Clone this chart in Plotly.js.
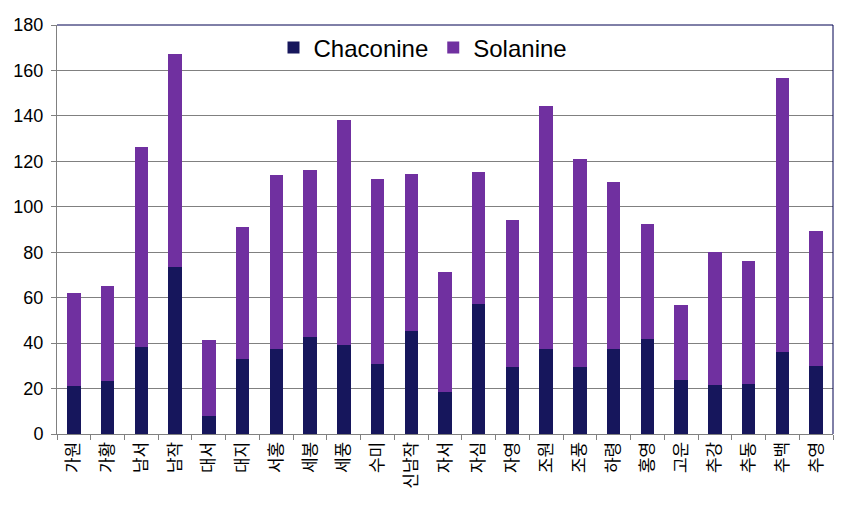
<!DOCTYPE html>
<html>
<head>
<meta charset="utf-8">
<script src="https://cdn.plot.ly/plotly-3.0.1.min.js"></script>
<style>html,body{margin:0;padding:0;background:#fff;}#chart{width:849px;height:511px;}</style>
</head>
<body>
<div id="chart"></div>
<script>
const categories = ["가원","가황","남서","남작","대서","대지","서홍","세봉","세풍","수미","신남작","자서","자심","자영","조원","조풍","하령","홍영","고운","추강","추동","추백","추영"];
const chaconine = [21.1,23.3,38.3,73.5,7.9,33.0,37.4,42.7,39.2,30.8,45.3,18.5,57.2,29.5,37.4,29.5,37.4,41.8,23.8,21.6,22.0,36.1,29.9];
const totals    = [62.0,65.1,126.3,167.2,41.4,91.1,114.0,116.2,138.2,112.2,114.4,71.3,115.3,94.2,144.4,121.0,110.9,92.4,56.8,80.1,76.1,156.7,89.3];
const solanine = totals.map((t,i)=>+(t - chaconine[i]).toFixed(1));
const yTicks = [0,20,40,60,80,100,120,140,160,180];

const data = [
  {type:'bar', name:'Chaconine', x:categories, y:chaconine, marker:{color:'#16165c'}},
  {type:'bar', name:'Solanine', x:categories, y:solanine, marker:{color:'#7030a0'}}
];

const layout = {
  width:849, height:511,
  margin:{l:57, r:16, t:25, b:77, pad:0},
  paper_bgcolor:'#ffffff', plot_bgcolor:'#ffffff',
  barmode:'stack', bargap:0.6,
  font:{family:'Liberation Sans, Arial, sans-serif', color:'#000'},
  xaxis:{
    type:'category', tickangle:-90, tickson:'boundaries',
    ticks:'outside', ticklen:5, tickcolor:'#808080', tickwidth:1,
    showline:true, linecolor:'#808080', linewidth:1,
    showgrid:false, tickfont:{family:'Noto Sans CJK KR', size:17, color:'#000'}
  },
  yaxis:{
    range:[0,180], tickvals:yTicks, ticktext:yTicks.map(String),
    ticks:'outside', ticklen:5, tickcolor:'#808080', tickwidth:1,
    showline:true, linecolor:'#808080', linewidth:1,
    showgrid:true, gridcolor:'#808080', gridwidth:1, zeroline:false,
    ticklabelstandoff:4,
    tickfont:{size:18, color:'#000'}
  },
  legend:{orientation:'h', x:0.279, xanchor:'left', y:0.944, yanchor:'middle',
    font:{size:24, color:'#000'}, bgcolor:'rgba(0,0,0,0)', itemwidth:30, traceorder:'normal'},
  shapes:[
    {type:'line', xref:'paper', yref:'paper', x0:0, x1:1, y0:1, y1:1, line:{color:'#000050', width:1}},
    {type:'line', xref:'paper', yref:'paper', x0:1, x1:1, y0:0, y1:1, line:{color:'#000050', width:1}}
  ]
};

Plotly.newPlot('chart', data, layout, {displayModeBar:false, staticPlot:true});
</script>
</body>
</html>
